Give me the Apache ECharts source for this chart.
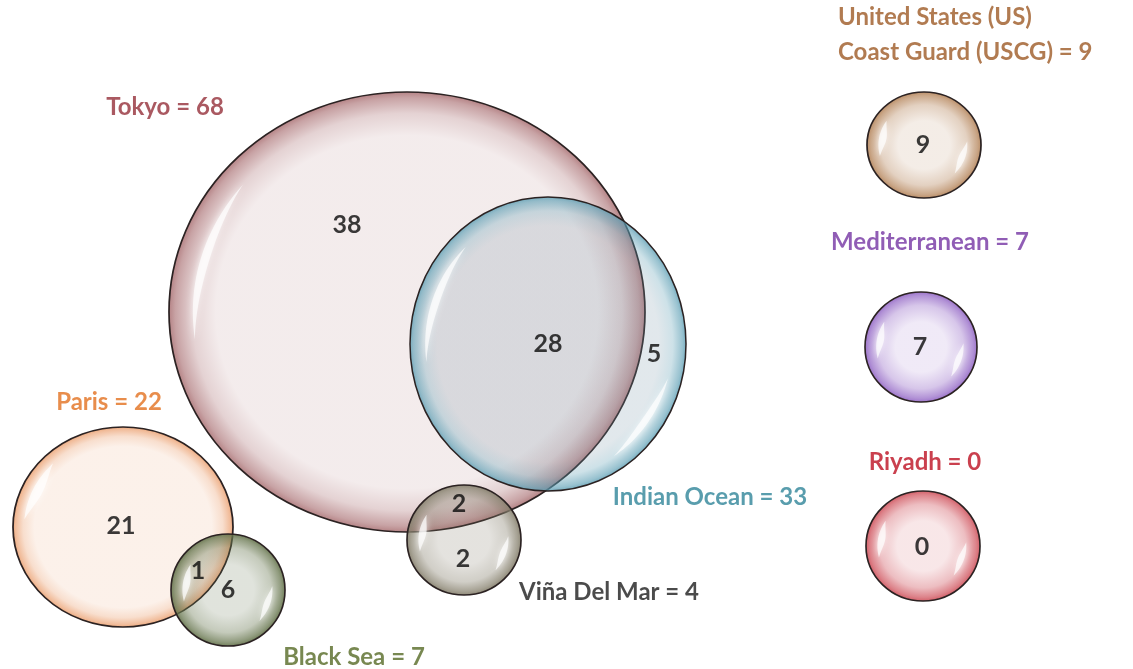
<!DOCTYPE html>
<html>
<head>
<meta charset="utf-8">
<script src="https://cdn.jsdelivr.net/npm/echarts@6/dist/echarts.min.js"></script>
<style>
html,body{margin:0;padding:0;background:#fff;}
#chart{width:1133px;height:669px;}
</style>
</head>
<body>
<div id="chart"></div>
<script>
// ---- data ----
const circleNames = ['Tokyo', 'Indian Ocean', 'Paris', 'Black Sea', 'Viña Del Mar', 'United States (US)\nCoast Guard (USCG)', 'Mediterranean', 'Riyadh'];
const circleTotals = [68, 33, 22, 7, 4, 9, 7, 0];
const regionCounts = [38, 28, 5, 21, 1, 6, 2, 2, 9, 7, 0];

// ---- layout (chart units = pixels of the 1133x669 canvas) ----
const circleCenters = [[407, 312], [548, 344], [123, 527], [228, 590], [464, 540], [924, 145], [921, 347], [923, 546]];
const circleRadii = [[238, 220], [138, 147], [110, 100], [57, 56], [57, 55], [57, 53], [56, 55], [57, 55]];
const nameLabelPos = [[165, 107], [710, 497], [109, 402], [354, 657], [609, 592], [838, 35], [930, 242], [925, 462]];
const countLabelPos = [[347, 225], [548, 344], [654, 354], [121, 526], [198, 571], [228, 590], [459, 504], [463, 559], [923, 145], [920, 347], [922, 547]];

// ---- styles ----
const rimColors = ['#a66a6d', '#5a9db3', '#e8925b', '#65744c', '#857f6c', '#b5855b', '#9468c6', '#cf525c'];
const bodyColors = [
  'rgba(166,106,109,0.13)', 'rgba(120,150,168,0.22)', 'rgba(232,146,91,0.13)', 'rgba(100,116,80,0.2)',
  'rgba(120,112,92,0.2)', 'rgba(181,133,91,0.15)', 'rgba(148,104,198,0.14)', 'rgba(207,82,92,0.14)'
];
const isSmall = [false, false, false, true, true, true, true, true];
const labelColors = ['#952f3a', '#2f8498', '#e2701f', '#566a26', '#1e1e1e', '#9e5a25', '#7434a2', '#bd1022'];
const highlights = [
  [[172, 220, 0.9, 8]],
  [[172, 228, 0.89, 8], [15, 58, 0.9, 7]],
  [[185, 225, 0.9, 9]],
  [[165, 215, 0.8, 7], [355, 45, 0.78, 6]],
  [[165, 215, 0.8, 7], [355, 45, 0.78, 6]],
  [[165, 215, 0.8, 7], [355, 45, 0.76, 6]],
  [[165, 215, 0.8, 7], [355, 45, 0.76, 6]],
  [[165, 215, 0.8, 7], [355, 45, 0.76, 6]]
];

function rgba(hex, a) {
  const n = parseInt(hex.slice(1), 16);
  return 'rgba(' + ((n >> 16) & 255) + ',' + ((n >> 8) & 255) + ',' + (n & 255) + ',' + a + ')';
}

function crescent(r, a1, a2, k, w) {
  const pts = [];
  const N = 24;
  for (let j = 0; j <= N; j++) {
    const t = (a1 + (a2 - a1) * j / N) * Math.PI / 180;
    pts.push([Math.cos(t) * r * k, Math.sin(t) * r * k]);
  }
  for (let j = N; j >= 0; j--) {
    const f = j / N;
    const t = (a1 + (a2 - a1) * f) * Math.PI / 180;
    const rr = r * k - w * Math.sin(Math.PI * f);
    pts.push([Math.cos(t) * rr, Math.sin(t) * rr]);
  }
  return pts;
}

const bubbleData = circleCenters.map((c, i) => [c[0], c[1], circleRadii[i][0], circleRadii[i][1], circleTotals[i]]);

function renderBubble(params, api) {
  const i = params.dataIndex;
  const p = api.coord([api.value(0), api.value(1)]);
  const sz = api.size([api.value(2), api.value(3)]);
  const rx = Math.abs(sz[0]), ry = Math.abs(sz[1]);
  const rim = rimColors[i];
  const stops = isSmall[i] ? [
    { offset: 0, color: bodyColors[i] },
    { offset: 0.45, color: bodyColors[i] },
    { offset: 0.75, color: rgba(rim, 0.38) },
    { offset: 0.92, color: rgba(rim, 0.72) },
    { offset: 1, color: rgba(rim, 0.95) }
  ] : [
    { offset: 0, color: bodyColors[i] },
    { offset: 0.8, color: bodyColors[i] },
    { offset: 0.9, color: rgba(rim, 0.3) },
    { offset: 0.97, color: rgba(rim, 0.62) },
    { offset: 1, color: rgba(rim, 0.85) }
  ];
  const grad = new echarts.graphic.RadialGradient(0.5, 0.5, 0.5, stops);
  const children = [{
    type: 'circle',
    shape: { cx: 0, cy: 0, r: ry },
    style: { fill: grad, stroke: '#2b2222', lineWidth: 1.6, strokeNoScale: true }
  }];
  highlights[i].forEach(h => {
    let a1 = h[0], a2 = h[1];
    if (a2 < a1) a2 += 360;
    children.push({
      type: 'polygon',
      shape: { points: crescent(ry, a1, a2, h[2], h[3]) },
      style: { fill: 'rgba(255,255,255,0.7)', shadowBlur: 6, shadowColor: 'rgba(255,255,255,1)' }
    });
  });
  return { type: 'group', x: p[0], y: p[1], scaleX: rx / ry, children: children };
}

const fontFam = 'Lato, "Open Sans", sans-serif';

const nameLabelData = nameLabelPos.map((p, i) => ({
  value: [p[0], p[1]],
  label: {
    formatter: circleNames[i] + ' = ' + circleTotals[i],
    color: labelColors[i],
    align: i === 5 ? 'left' : 'center',
    lineHeight: 35
  }
}));

const countLabelData = countLabelPos.map((p, i) => ({
  value: [p[0], p[1]],
  label: { formatter: String(regionCounts[i]) }
}));

const chart = echarts.init(document.getElementById('chart'), null, { renderer: 'canvas' });
chart.setOption({
  backgroundColor: '#ffffff',
  animation: false,
  grid: { left: 0, right: 0, top: 0, bottom: 0 },
  xAxis: { type: 'value', min: 0, max: 1133, show: false },
  yAxis: { type: 'value', min: 0, max: 669, inverse: true, show: false },
  series: [
    {
      type: 'custom',
      coordinateSystem: 'cartesian2d',
      renderItem: renderBubble,
      data: bubbleData,
      silent: true,
      z: 1
    },
    {
      type: 'scatter',
      symbolSize: 0,
      silent: true,
      z: 5,
      data: countLabelData,
      label: {
        show: true,
        position: 'inside',
        fontFamily: fontFam,
        fontSize: 25,
        fontWeight: 'bold',
        color: '#0a0a0a'
      }
    },
    {
      type: 'scatter',
      symbolSize: 0,
      silent: true,
      z: 5,
      data: nameLabelData,
      label: {
        show: true,
        position: 'inside',
        fontFamily: fontFam,
        fontSize: 24,
        fontWeight: 'bold'
      }
    }
  ]
});
</script>
</body>
</html>
